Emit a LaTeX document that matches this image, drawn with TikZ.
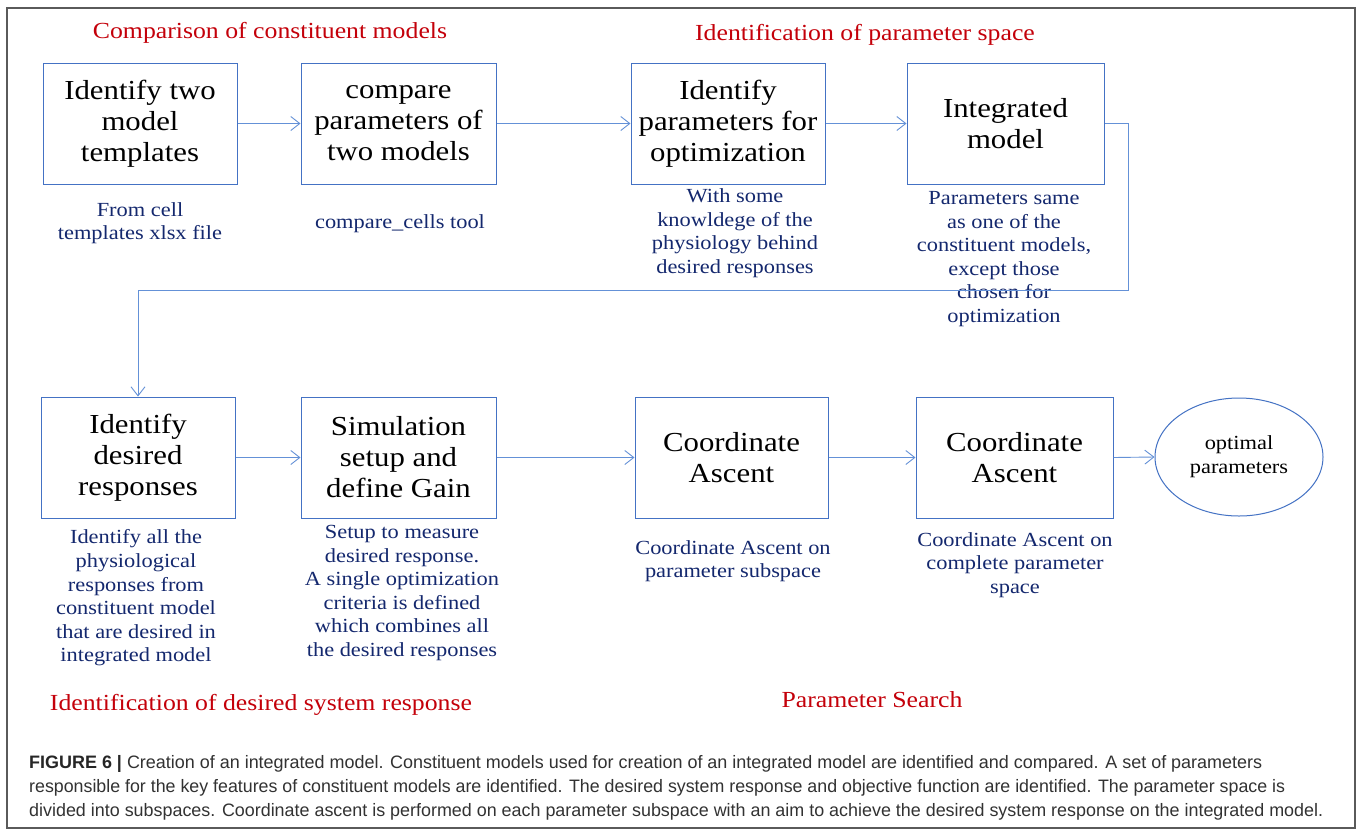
\documentclass[tikz,border=0pt]{standalone}
\usepackage{graphicx}
\usepackage{fontspec}
\setmainfont{Liberation Serif}[FakeStretch=1.12]
\newfontfamily\capfont{Liberation Sans}
\usetikzlibrary{arrows.meta,shapes.geometric}
\definecolor{boxblue}{RGB}{68,114,196}
\definecolor{arrblue}{RGB}{100,145,215}
\definecolor{titlered}{RGB}{196,0,10}
\definecolor{notenavy}{RGB}{20,40,110}
\definecolor{framegray}{RGB}{90,90,90}
\definecolor{capgray}{RGB}{50,50,50}
\begin{document}
\begin{tikzpicture}[x=1pt,y=-1pt,
  box/.style={draw=boxblue,line width=1pt,minimum height=121pt,inner sep=0pt,align=center,text=black,font=\fontsize{27.5}{31}\selectfont},
  note/.style={align=center,text=notenavy,inner sep=0pt,font=\fontsize{20}{23.6}\selectfont},
  title/.style={text=titlered,inner sep=0pt,font=\fontsize{23}{26}\selectfont},
  arr/.style={draw=arrblue,line width=0.9pt,-{Straight Barb[length=9pt,width=14pt]}},
  capline/.style={anchor=base west,inner sep=0pt,text=capgray,font=\capfont\fontsize{18}{21}\selectfont}]
\useasboundingbox (0,0) rectangle (1358,831);
\fill[white] (0,0) rectangle (1358,831);
\draw[framegray,line width=1.5pt] (7,8) rectangle (1355,828);

% titles
\node[title] (t1) at (270,33) {Comparison of constituent models};
\node[title] (t2) at (865,35) {Identification of parameter space};
\node[title] (t3) at (261,705) {Identification of desired system response};
\node[title] (t4) at (872,700) {Parameter Search};

% row 1
\node[box,minimum width=194pt] (b1) at (140,123.5) {Identify two\\model\\templates};
\node[box,minimum width=195pt] (b2) at (398.5,123.5) {compare\\parameters of\\two models};
\node[box,minimum width=194pt] (b3) at (728,123.5) {Identify\\parameters for\\optimization};
\node[box,minimum width=197pt] (b4) at (1005.5,123.5) {Integrated\\model};

% row 2
\node[box,minimum width=194pt] (b5) at (138,457.5) {Identify\\desired\\responses};
\node[box,minimum width=195pt] (b6) at (398.5,457.5) {Simulation\\setup and\\define Gain};
\node[box,minimum width=193pt] (b7) at (731.5,457.5) {Coordinate\\Ascent};
\node[box,minimum width=197pt] (b8) at (1014.5,457.5) {Coordinate\\Ascent};
\node[draw=boxblue,line width=1pt,ellipse,minimum width=168pt,minimum height=118pt,inner sep=0pt,align=center,font=\fontsize{20}{24}\selectfont] (e1) at (1239,457) {optimal\\parameters};

% notes
\node[note] (n1) at (140,223) {From cell\\templates xlsx file};
\node[note] (n2) at (400,224) {compare\_cells tool};
\node[note] (n3) at (735,233) {With some\\knowldege of the\\physiology behind\\desired responses};
\node[note] (n4) at (1004,259) {Parameters same\\as one of the\\constituent models,\\except those\\chosen for\\optimization};
\node[note] (n5) at (136,598) {Identify all the\\physiological\\responses from\\constituent model\\that are desired in\\integrated model};
\node[note] (n6) at (402,593) {Setup to measure\\desired response.\\A single optimization\\criteria is defined\\which combines all\\the desired responses};
\node[note] (n7) at (733,561) {Coordinate Ascent on\\parameter subspace};
\node[note] (n8) at (1015,565) {Coordinate Ascent on\\complete parameter\\space};

% connectors
\draw[arr] (b1.east) -- (b2.west);
\draw[arr] (b2.east) -- (b3.west);
\draw[arr] (b3.east) -- (b4.west);
\coordinate (turnR) at (1128,290);
\draw[arr] (b4.east) -| (turnR) -| (b5.north);
\draw[arr] (b5.east) -- (b6.west);
\draw[arr] (b6.east) -- (b7.west);
\draw[arr] (b7.east) -- (b8.west);
\draw[arr] (b8.east) -- (e1.west);

% caption
\node[capline] (c1) at (29,768) {\resizebox{1233pt}{\height}{{\bfseries\color{black!85} FIGURE 6 |} Creation of an integrated model. Constituent models used for creation of an integrated model are identified and compared. A set of parameters}};
\node[capline] (c2) at (29,792) {\resizebox{1256pt}{\height}{responsible for the key features of constituent models are identified. The desired system response and objective function are identified. The parameter space is}};
\node[capline] (c3) at (29,816) {\resizebox{1294pt}{\height}{divided into subspaces. Coordinate ascent is performed on each parameter subspace with an aim to achieve the desired system response on the integrated model.}};
\end{tikzpicture}
\end{document}
